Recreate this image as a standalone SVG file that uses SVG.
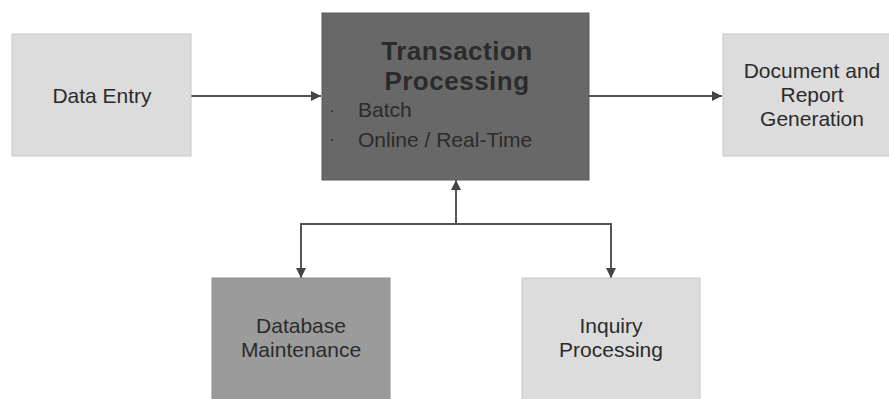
<svg xmlns="http://www.w3.org/2000/svg" width="889" height="399" viewBox="0 0 889 399">
<style>
.box{stroke:#c8c8c8;stroke-width:1}
.light{fill:#dcdcdc}
.t{font-family:"Liberation Sans",Arial,sans-serif;font-size:21px;fill:#2b2b2b;text-anchor:middle}
.tl{font-family:"Liberation Sans",Arial,sans-serif;font-size:21px;fill:#2b2b2b}
.tb{font-family:"Liberation Sans",Arial,sans-serif;font-size:26px;font-weight:bold;fill:#2b2b2b;text-anchor:middle;letter-spacing:0.5px}
.c{fill:none;stroke:#555;stroke-width:2}
</style>
<defs>
<marker id="ah" viewBox="0 0 10 10" refX="10" refY="5" markerWidth="10" markerHeight="10" markerUnits="userSpaceOnUse" orient="auto">
<path d="M0,0 L10,5 L0,10 z" fill="#444"/>
</marker>
</defs>
<rect width="889" height="399" fill="#ffffff"/>
<g id="connectors">
<line class="c" x1="191" y1="96" x2="321" y2="96" marker-end="url(#ah)"/>
<line class="c" x1="589" y1="96" x2="722" y2="96" marker-end="url(#ah)"/>
<line class="c" x1="456" y1="224" x2="456" y2="180" marker-end="url(#ah)"/>
<polyline class="c" points="301,278 301,224 611,224 611,278"/>
<line class="c" x1="301" y1="260" x2="301" y2="278" marker-end="url(#ah)"/>
<line class="c" x1="611" y1="260" x2="611" y2="278" marker-end="url(#ah)"/>
</g>
<g id="data-entry">
<rect class="box light" x="12" y="34" width="179" height="122"/>
<text class="t" x="102" y="103">Data Entry</text>
</g>
<g id="transaction-processing">
<rect x="322" y="13" width="267" height="167" fill="#686868" stroke="#5a5a5a"/>
<text class="tb" x="457" y="60">Transaction</text>
<text class="tb" x="457" y="90">Processing</text>
<circle cx="332" cy="111" r="1" fill="#2b2b2b"/>
<circle cx="332" cy="140" r="1" fill="#2b2b2b"/>
<text class="tl" x="358" y="117">Batch</text>
<text class="tl" x="358" y="147">Online / Real-Time</text>
</g>
<g id="document-report">
<rect class="box light" x="723" y="34" width="179" height="122"/>
<text class="t" x="812" y="78">Document and</text>
<text class="t" x="812" y="102">Report</text>
<text class="t" x="812" y="126">Generation</text>
</g>
<g id="database-maintenance">
<rect x="212" y="278" width="178" height="130" fill="#9b9b9b" stroke="#8e8e8e"/>
<text class="t" x="301" y="333">Database</text>
<text class="t" x="301" y="357">Maintenance</text>
</g>
<g id="inquiry-processing">
<rect class="box light" x="522" y="278" width="178" height="130"/>
<text class="t" x="611" y="333">Inquiry</text>
<text class="t" x="611" y="357">Processing</text>
</g>
</svg>
